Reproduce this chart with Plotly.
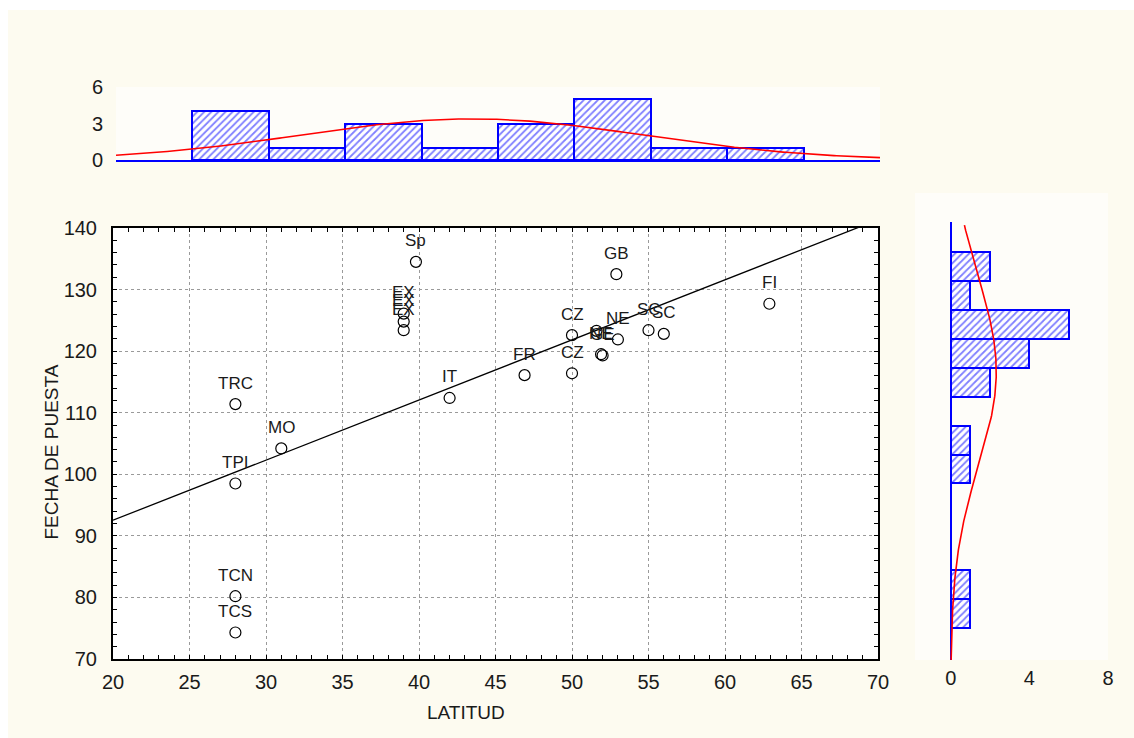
import numpy as np
import plotly.graph_objects as go

# ---------------- data ----------------
labels = ["TRC", "TPI", "TCN", "TCS", "MO", "EX", "EX", "EX", "Sp", "IT", "FR",
          "CZ", "CZ", "NE", "GE", "", "NE", "GB", "SC", "SC", "FI"]
latitud = [28.0, 28.0, 28.0, 28.0, 31.0, 39.0, 39.0, 39.0, 39.8, 42.0, 46.9,
           50.0, 50.0, 51.9, 52.0, 51.6, 53.0, 52.9, 55.0, 56.0, 62.9]
fecha = [111.4, 98.5, 80.2, 74.3, 104.2, 126.1, 124.8, 123.4, 134.5, 112.4, 116.1,
         122.6, 116.4, 119.5, 119.3, 123.3, 121.9, 132.5, 123.4, 122.8, 127.7]

# top histogram (LATITUD)
lat_bin_left = [25, 30, 35, 40, 45, 50, 55, 60]
lat_counts = [4, 1, 3, 1, 3, 5, 1, 1]
lat_bin_width = 5.0

# right histogram (FECHA DE PUESTA)
fecha_bin_low = [75.03, 79.73, 84.42, 89.12, 93.82, 98.51, 103.21,
                 107.91, 112.61, 117.30, 122.00, 126.70, 131.40]
fecha_counts = [1, 1, 0, 0, 0, 1, 1, 0, 2, 4, 6, 1, 2]
fecha_bin_width = 4.697

x_ticks = [20, 25, 30, 35, 40, 45, 50, 55, 60, 65, 70]
y_ticks = [70, 80, 90, 100, 110, 120, 130, 140]
top_ticks = [0, 3, 6]
right_ticks = [0, 4, 8]

# ---------------- layout helpers ----------------
W, H = 1134, 738
def fx(p):
    return p / W
def fy(p):
    return 1 - p / H

BLUE = "#0000FF"
RED = "#FF0000"
CREAM = "#FDFBF0"
LIGHT = "#FEFDF9"
FONT = "Liberation Sans"
TXT = "#1a1a1a"

fig = go.Figure()

# ---- main scatter ----
fig.add_trace(go.Scatter(
    x=latitud, y=fecha, mode="markers",
    marker=dict(symbol="circle-open", size=11, color="black", line=dict(width=1.2, color="black")),
    xaxis="x", yaxis="y", showlegend=False, hoverinfo="skip"))

slope, intercept = np.polyfit(latitud, fecha, 1)
xr = np.array([x_ticks[0], x_ticks[-1]], dtype=float)
fig.add_trace(go.Scatter(
    x=xr, y=slope * xr + intercept, mode="lines",
    line=dict(color="black", width=1.3),
    xaxis="x", yaxis="y", showlegend=False, hoverinfo="skip"))

# ---- top histogram ----
hatch = dict(shape="/", fgcolor=BLUE, bgcolor="white", size=5, solidity=0.35)
lat_centers = [b + lat_bin_width / 2 for b in lat_bin_left]
fig.add_trace(go.Bar(
    x=lat_centers, y=lat_counts, width=lat_bin_width,
    marker=dict(color="white", line=dict(color=BLUE, width=2), pattern=hatch),
    xaxis="x2", yaxis="y2", showlegend=False, hoverinfo="skip"))

n_lat = sum(lat_counts)
lc = np.array(lat_centers); lw = np.array(lat_counts, dtype=float)
m_lat = np.sum(lc * lw) / n_lat
s_lat = np.sqrt(np.sum(lw * (lc - m_lat) ** 2) / (n_lat - 1))
xs = np.linspace(x_ticks[0], x_ticks[-1], 300)
ys = n_lat * lat_bin_width * np.exp(-0.5 * ((xs - m_lat) / s_lat) ** 2) / (s_lat * np.sqrt(2 * np.pi))
fig.add_trace(go.Scatter(x=xs, y=ys, mode="lines", line=dict(color=RED, width=1.6),
                         xaxis="x2", yaxis="y2", showlegend=False, hoverinfo="skip"))

# ---- right histogram ----
f_centers = [b + fecha_bin_width / 2 for b in fecha_bin_low]
fig.add_trace(go.Bar(
    y=f_centers, x=fecha_counts, width=fecha_bin_width, orientation="h",
    marker=dict(color="white", line=dict(color=BLUE, width=2), pattern=hatch),
    xaxis="x3", yaxis="y3", showlegend=False, hoverinfo="skip"))

n_f = sum(fecha_counts)
fc = np.array(f_centers); fw = np.array(fecha_counts, dtype=float)
m_f = np.sum(fc * fw) / n_f
s_f = np.sqrt(np.sum(fw * (fc - m_f) ** 2) / (n_f - 1))
yr3 = [69.84, 140.97]
yy = np.linspace(yr3[0], yr3[1] - 0.5, 300)
xx = n_f * fecha_bin_width * np.exp(-0.5 * ((yy - m_f) / s_f) ** 2) / (s_f * np.sqrt(2 * np.pi))
fig.add_trace(go.Scatter(x=xx, y=yy, mode="lines", line=dict(color=RED, width=1.6),
                         xaxis="x3", yaxis="y3", showlegend=False, hoverinfo="skip"))

# ---------------- axes ----------------
tickfont = dict(family=FONT, size=20, color=TXT)

fig.update_layout(
    width=W, height=H, margin=dict(l=0, r=0, t=0, b=0, pad=0, autoexpand=False),
    autosize=False,
    paper_bgcolor=CREAM, plot_bgcolor="rgba(0,0,0,0)",
    barmode="overlay", bargap=0,
    xaxis=dict(domain=[fx(113), fx(878)], range=[20, 70], anchor="y", automargin=False,
               tickvals=x_ticks, ticks="inside", ticklen=4, tickcolor="black",
               showline=True, linecolor="black", linewidth=2, mirror="allticks",
               showgrid=True, gridcolor="#9a9a9a", griddash="dot", gridwidth=1,
               zeroline=False, tickfont=tickfont, ticklabelstandoff=4,
               minor=dict(dtick=1, ticks="inside", ticklen=4, tickcolor="black", showgrid=False)),
    yaxis=dict(domain=[fy(659), fy(228)], range=[70, 140], anchor="x", automargin=False,
               tickvals=y_ticks, ticks="inside", ticklen=4, tickcolor="black",
               showline=True, linecolor="black", linewidth=2, mirror="allticks",
               showgrid=True, gridcolor="#9a9a9a", griddash="dot", gridwidth=1,
               zeroline=False, tickfont=tickfont, ticklabelstandoff=10,
               minor=dict(dtick=2, ticks="inside", ticklen=4, tickcolor="black", showgrid=False)),
    xaxis2=dict(domain=[fx(116), fx(880)], range=[20, 70], anchor="y2", automargin=False,
                showticklabels=False, ticks="", showgrid=False, zeroline=False,
                showline=True, linecolor=BLUE, linewidth=2),
    yaxis2=dict(domain=[fy(160), fy(87)], range=[0, 6], anchor="x2", automargin=False,
                tickvals=top_ticks, ticks="", showgrid=False, zeroline=False,
                showline=False, tickfont=tickfont, ticklabelstandoff=12),
    xaxis3=dict(domain=[fx(930), fx(1125)], range=[-1.053, 8.865], anchor="y3", automargin=False,
                tickvals=right_ticks, ticks="", showgrid=False,
                zeroline=True, zerolinecolor=BLUE, zerolinewidth=2,
                showline=False, tickfont=tickfont, ticklabelstandoff=4),
    yaxis3=dict(domain=[fy(660), fy(222)], range=yr3, anchor="x3", automargin=False,
                showticklabels=False, ticks="", showgrid=False, zeroline=False, showline=False),
)

# backgrounds: white strips at left/top edge, light panels, white main plot
shapes = [
    dict(type="rect", xref="paper", yref="paper", x0=0, x1=fx(8), y0=0, y1=1,
         fillcolor="white", line=dict(width=0), layer="below"),
    dict(type="rect", xref="paper", yref="paper", x0=0, x1=1, y0=fy(10), y1=1,
         fillcolor="white", line=dict(width=0), layer="below"),
    dict(type="rect", xref="paper", yref="paper", x0=fx(116), x1=fx(880), y0=fy(160), y1=fy(87),
         fillcolor=LIGHT, line=dict(width=0), layer="below"),
    dict(type="rect", xref="paper", yref="paper", x0=fx(915), x1=fx(1108), y0=fy(660), y1=fy(193),
         fillcolor=LIGHT, line=dict(width=0), layer="below"),
    dict(type="rect", xref="paper", yref="paper", x0=fx(113), x1=fx(878), y0=fy(659), y1=fy(228),
         fillcolor="white", line=dict(width=0), layer="below"),
]
fig.update_layout(shapes=shapes)

# point labels
annotations = []
for lab, xv, yv in zip(labels, latitud, fecha):
    if not lab:
        continue
    annotations.append(dict(x=xv, y=yv, xref="x", yref="y", text=lab, showarrow=False,
                            yshift=21, font=dict(family=FONT, size=17, color=TXT)))
# axis titles
annotations.append(dict(x=fx(466), y=fy(725), xref="paper", yref="paper", text="LATITUD",
                        showarrow=False, font=dict(family=FONT, size=19, color=TXT)))
annotations.append(dict(x=fx(38), y=fy(452), xref="paper", yref="paper", text="FECHA DE PUESTA",
                        textangle=-90, showarrow=False, font=dict(family=FONT, size=19, color=TXT)))
fig.update_layout(annotations=annotations)

fig.write_html("out.html",
               post_script="document.body.style.margin='0px';document.body.style.overflow='hidden';")
